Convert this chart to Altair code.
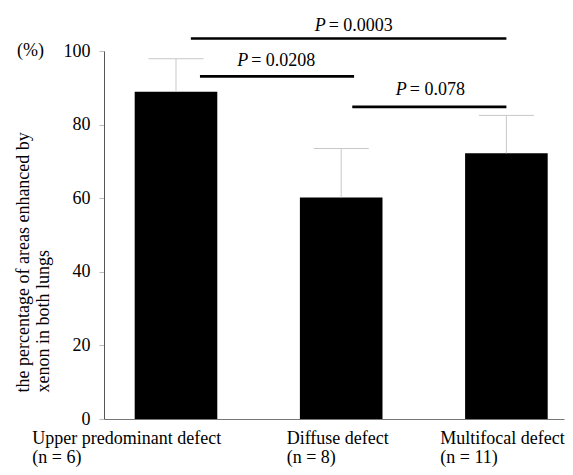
import altair as alt
import pandas as pd

# ---- data ----
categories = ["Upper predominant defect", "Diffuse defect", "Multifocal defect"]
n_labels = ["(n = 6)", "(n = 8)", "(n = 11)"]
positions = [0, 1, 2]
means = [88.9, 60.2, 72.2]
upper = [97.9, 73.5, 82.5]          # mean + SD (upper error bar)
label_anchor = [-0.87, 0.67, 1.60]  # left edge of each (wrapped) category label
y_ticks = [0, 10, 20, 30, 40, 50, 60, 70, 80, 90, 100]
unit_label = "(%)"

p_values = ["0.0003", "0.0208", "0.078"]
sig_from = [0.09, 0.145, 1.067]
sig_to = [2.0, 1.078, 2.0]
sig_y = [103.4, 93.1, 84.8]
sig_text_x = [0.906, 0.437, 1.397]
sig_text_y = [105.3, 95.8, 88.0]

FONT = "Liberation Serif"

bars_df = pd.DataFrame({"cat": categories, "pos": positions, "mean": means, "upper": upper})
lab_df = pd.DataFrame({"txt": [c + "\n" + n for c, n in zip(categories, n_labels)],
                       "ax": label_anchor})
sig_df = pd.DataFrame({"p": p_values, "x1": sig_from, "x2": sig_to, "y": sig_y,
                       "tx": sig_text_x, "ty": sig_text_y})
unit_df = pd.DataFrame({"t": [unit_label], "v": [100]})

xscale = alt.Scale(domain=[-0.4358, 2.3487], nice=False, zero=False)
yscale = alt.Scale(domain=[0, 100], nice=False)

xaxis = alt.Axis(labels=False, ticks=False, title=None, grid=False,
                 domainColor="#777777", domainWidth=1)
yaxis = alt.Axis(values=y_ticks, grid=False, tickSize=5, labelOverlap=False,
                 tickColor="#bbbbbb", domainColor="#555555", domainWidth=1,
                 labelColor="black", labelPadding=9, labelFont=FONT, labelFontSize=18,
                 title=["the percentage of areas enhanced by", "xenon in both lungs"],
                 titleFont=FONT, titleFontSize=18, titleFontWeight="normal",
                 titleColor="black", titleAngle=270, titleAlign="left",
                 titleBaseline="alphabetic", titleX=-76, titleY=341, titleLineHeight=20)

base = alt.Chart(bars_df).transform_calculate(
    lo="datum.pos - 0.25", hi="datum.pos + 0.25",
    clo="datum.pos - 0.167", chi="datum.pos + 0.167")

bars = base.mark_bar(color="black").encode(
    x=alt.X("lo:Q", scale=xscale, axis=xaxis), x2="hi:Q",
    y=alt.Y("mean:Q", scale=yscale, axis=yaxis), y2=alt.datum(0))
err_stem = base.mark_rule(color="#c8c8c8", strokeWidth=1).encode(
    x="pos:Q", y="mean:Q", y2="upper:Q")
err_cap = base.mark_rule(color="#c8c8c8", strokeWidth=1).encode(
    x="clo:Q", x2="chi:Q", y="upper:Q")

unit_text = alt.Chart(unit_df).mark_text(
    font=FONT, fontSize=18, align="left", baseline="middle", color="black").encode(
    x=alt.value(-87), y="v:Q", text="t:N")

cat_labels = alt.Chart(lab_df).mark_text(
    font=FONT, fontSize=18, align="left", baseline="alphabetic",
    lineBreak="\n", lineHeight=19, color="black").encode(
    x="ax:Q", y=alt.value(393), text="txt:N")

sig_lines = alt.Chart(sig_df).mark_rule(color="black", strokeWidth=2.7).encode(
    x="x1:Q", x2="x2:Q", y="y:Q")
sig_P = alt.Chart(sig_df).mark_text(
    font=FONT, fontSize=18, fontStyle="italic", align="right",
    baseline="alphabetic", color="black").encode(
    x="tx:Q", y="ty:Q", text=alt.value("P"))
sig_val = alt.Chart(sig_df).transform_calculate(lbl="'= ' + datum.p").mark_text(
    font=FONT, fontSize=18, align="left", baseline="alphabetic",
    color="black", dx=3).encode(
    x="tx:Q", y="ty:Q", text="lbl:N")

chart = alt.layer(bars, err_stem, err_cap, unit_text, cat_labels, sig_lines, sig_P, sig_val).properties(
    width=460, height=368,
    padding={"left": 5, "top": 9, "right": 0, "bottom": 0},
).configure_view(strokeWidth=0)

chart.save("out.html", embed_options={"renderer": "svg", "actions": False})
